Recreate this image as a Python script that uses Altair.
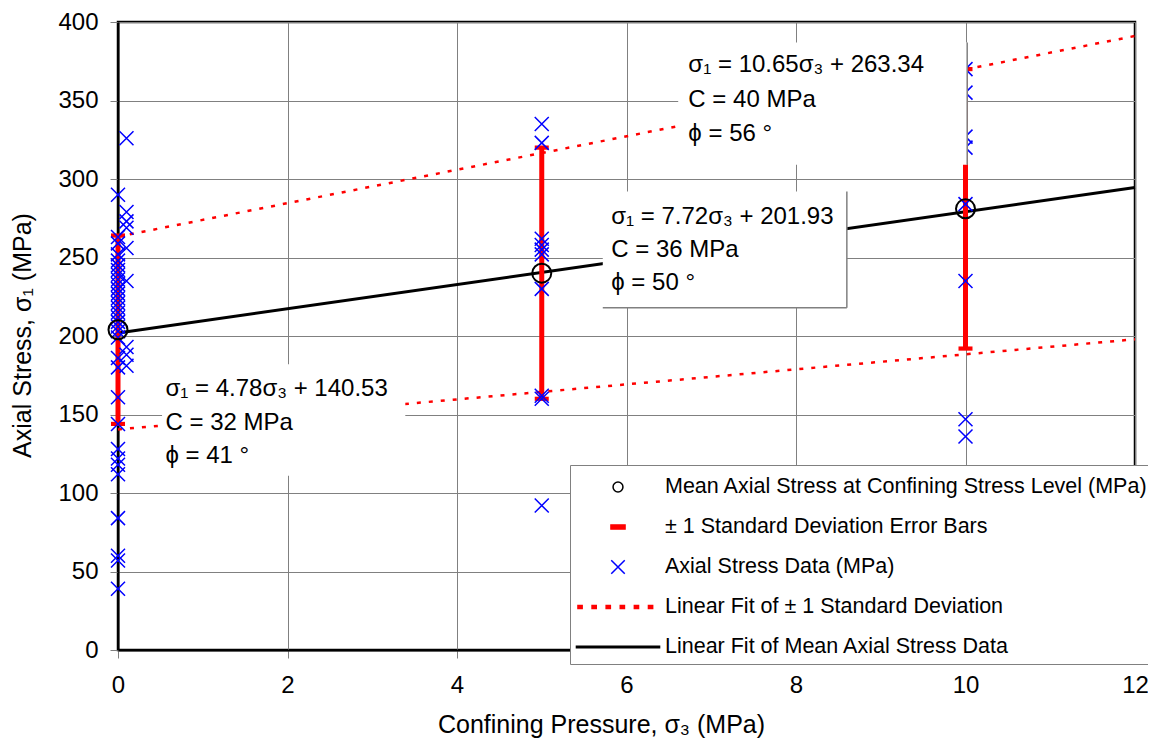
import altair as alt
import pandas as pd

FONT = "Liberation Sans"

# ---------------- data ----------------
pressure_levels = [0, 5, 10]
mean_stress = [204, 240, 281]
sd_low = [144, 160, 192]
sd_high = [264, 320, 370]

pts_x0 = [290, 263, 259, 252, 248, 245, 242, 239, 236, 233, 230, 227, 224, 221,
          218, 215, 212, 209, 206, 203, 199, 186, 180, 161, 144, 128, 122, 118,
          112, 84, 60, 57, 39]
pts_x01 = [326, 279, 273, 269, 256, 235, 193, 188, 181]
pts_x5 = [335, 323, 262, 258, 255, 252, 230, 162, 160, 92]
pts_x10 = [370, 355, 327, 320, 284, 235, 147, 136]

fit_x = [0, 12]
fit_upper = [263.3, 391.1]
fit_mean = [201.9, 294.6]
fit_lower = [140.5, 197.9]

# annotation boxes (data units)
box_x1 = [0.52, 5.72, 6.61]
box_x2 = [3.39, 8.60, 10.02]
box_y1 = [111, 218, 309]
box_y2 = [182, 292, 387]
box_right_edge = [False, True, True]
box_bottom_edge = [False, True, False]

ann_x = [0.56, 0.56, 0.56, 5.82, 5.82, 5.82, 6.73, 6.73, 6.73]
ann_y = [166.3, 144.8, 123.8, 275.6, 254.6, 233.7, 372.7, 350.5, 328.9]
ann_text = ["σ₁ = 4.78σ₃ + 140.53", "C = 32 MPa", "ϕ = 41 °",
            "σ₁ = 7.72σ₃ + 201.93", "C = 36 MPa", "ϕ = 50 °",
            "σ₁ = 10.65σ₃ + 263.34", "C = 40 MPa", "ϕ = 56 °"]

legend_labels = ["Mean Axial Stress at Confining Stress Level (MPa)",
                 "± 1 Standard Deviation Error Bars",
                 "Axial Stress Data (MPa)",
                 "Linear Fit of ± 1 Standard Deviation",
                 "Linear Fit of Mean Axial Stress Data"]

x_ticks = [0, 2, 4, 6, 8, 10, 12]
y_ticks = [0, 50, 100, 150, 200, 250, 300, 350, 400]

# ---------------- tables ----------------
pts = pd.DataFrame({
    "x": [0] * len(pts_x0) + [0.1] * len(pts_x01) + [5] * len(pts_x5) + [10] * len(pts_x10),
    "y": pts_x0 + pts_x01 + pts_x5 + pts_x10,
})
means = pd.DataFrame({"x": pressure_levels, "y": mean_stress, "lo": sd_low, "hi": sd_high})
caps = pd.DataFrame({"x": pressure_levels * 2, "y": sd_low + sd_high})
fits = pd.DataFrame({"x": fit_x * 3,
                     "y": fit_upper + fit_lower + fit_mean,
                     "s": ["up"] * 2 + ["low"] * 2 + ["mean"] * 2})
boxes = pd.DataFrame({"x": box_x1, "x2": box_x2, "y": box_y1, "y2": box_y2,
                      "r": box_right_edge, "b": box_bottom_edge})
ann = pd.DataFrame({"x": ann_x, "y": ann_y, "t": ann_text})
leg_df = pd.DataFrame({"series": legend_labels,
                       "x": [pressure_levels[0]] * 5, "y": [mean_stress[0]] * 5})

# ---------------- scales / axes ----------------
xs = alt.Scale(domain=[0, 12], nice=False, zero=False)
ys = alt.Scale(domain=[0, 400], nice=False, zero=False)
x_axis = alt.Axis(values=x_ticks, format="d", title="Confining Pressure, σ₃ (MPa)",
                  titleX=483, titleY=74, titleBaseline="middle", labelPadding=15,
                  labelFlush=False)
y_axis = alt.Axis(values=y_ticks, format="d", title="Axial Stress, σ₁ (MPa)",
                  titleX=-96, titleY=313, titleBaseline="middle", labelPadding=12,
                  labelFlush=False)
X = alt.X("x:Q", scale=xs, axis=x_axis)
Y = alt.Y("y:Q", scale=ys, axis=y_axis)

fit_up = alt.Chart(fits).transform_filter(alt.datum.s == "up").mark_line(
    color="#FF0000", strokeWidth=2.5, strokeDash=[4, 8]).encode(x=X, y=Y)
fit_lo = alt.Chart(fits).transform_filter(alt.datum.s == "low").mark_line(
    color="#FF0000", strokeWidth=2.5, strokeDash=[4, 8]).encode(x=X, y=Y)
fit_mn = alt.Chart(fits).transform_filter(alt.datum.s == "mean").mark_line(
    color="black", strokeWidth=3).encode(x=X, y=Y)

bars = alt.Chart(means).mark_rule(color="#FF0000", strokeWidth=5).encode(
    x=X, y=alt.Y("lo:Q", scale=ys, axis=y_axis), y2="hi:Q")
cap_marks = alt.Chart(caps).mark_point(
    shape="M-1,-0.3H1V0.3H-1Z", size=196, filled=True, color="#FF0000", opacity=1
).encode(x=X, y=Y)

crosses = alt.Chart(pts).mark_point(
    shape="M-1,-1L1,1M-1,1L1,-1", size=196, filled=False, color="#0000FF",
    strokeWidth=1.5, opacity=1).encode(x=X, y=Y)

circles = alt.Chart(means).mark_point(
    shape="circle", size=361, filled=False, color="black", strokeWidth=2, opacity=1
).encode(x=X, y=Y)

box_rects = alt.Chart(boxes).mark_rect(color="white").encode(
    x=X, x2="x2:Q", y=Y, y2="y2:Q")
box_r = alt.Chart(boxes).transform_filter(alt.datum.r).mark_rule(
    color="#808080", strokeWidth=1.5).encode(x=alt.X("x2:Q", scale=xs, axis=x_axis), y=Y, y2="y2:Q")
box_b = alt.Chart(boxes).transform_filter(alt.datum.b).mark_rule(
    color="#808080", strokeWidth=1.5).encode(x=X, x2="x2:Q", y=Y)

texts = alt.Chart(ann).mark_text(
    align="left", baseline="middle", fontSize=24, font=FONT, color="black"
).encode(x=X, y=Y, text="t:N")

# legend (symbol shapes in units of 15 px)
shape_range = [
    "M-0.33,0A0.33,0.33 0 1,0 0.33,0A0.33,0.33 0 1,0 -0.33,0Z",
    "M-0.47,-0.14H0.47V0.14H-0.47Z",
    "M-0.45,-0.45L0.45,0.45M-0.45,0.45L0.45,-0.45",
    "M-2.67,-0.1H-2.39V0.1H-2.67Z M-1.73,-0.1H-1.45V0.1H-1.73Z M-0.79,-0.1H-0.51V0.1H-0.79Z "
    "M0.15,-0.1H0.43V0.1H0.15Z M1.09,-0.1H1.37V0.1H1.09Z M2.03,-0.1H2.31V0.1H2.03Z",
    "M-2.77,-0.05H2.77V0.05H-2.77Z",
]
leg = alt.Legend(title=None, orient="none", legendX=452, legendY=443, direction="vertical",
                 symbolSize=900, symbolStrokeWidth=1.5, symbolOffset=26, labelOffset=31,
                 labelFontSize=21.5, labelFont=FONT, labelColor="black", labelLimit=800,
                 rowPadding=13, padding=6, fillColor="white", strokeColor="#808080",
                 symbolOpacity=1, symbolFillColor="transparent", symbolStrokeColor="black")
legend_layer = alt.Chart(leg_df).mark_point(filled=False, opacity=0).encode(
    x=X, y=Y,
    shape=alt.Shape("series:N", scale=alt.Scale(domain=legend_labels, range=shape_range), legend=leg),
    stroke=alt.Stroke("series:N", scale=alt.Scale(domain=legend_labels,
                      range=["black", "#FF0000", "#0000FF", "#FF0000", "black"]), legend=leg),
    fill=alt.Fill("series:N", scale=alt.Scale(domain=legend_labels,
                  range=["transparent", "#FF0000", "transparent", "#FF0000", "black"]), legend=leg),
)

chart = alt.layer(
    fit_up, fit_lo, fit_mn, bars, cap_marks, crosses, circles,
    box_rects, box_r, box_b, texts, legend_layer
).properties(
    width=1017, height=628,
    autosize=alt.AutoSizeParams(type="none"),
    padding={"left": 110, "top": 14, "right": 13, "bottom": 89},
    background="white",
).configure_view(
    stroke="black", strokeWidth=2.5
).configure_axis(
    labelFont=FONT, labelFontSize=24, labelColor="black",
    titleFont=FONT, titleFontSize=25, titleFontWeight="normal", titleColor="black",
    tickColor="#808080", tickSize=8, tickWidth=1,
    domainColor="black", domainWidth=2,
    gridColor="#808080", gridWidth=1, gridOpacity=1,
)

chart.save("out.html", embed_options={"renderer": "svg", "actions": False})
